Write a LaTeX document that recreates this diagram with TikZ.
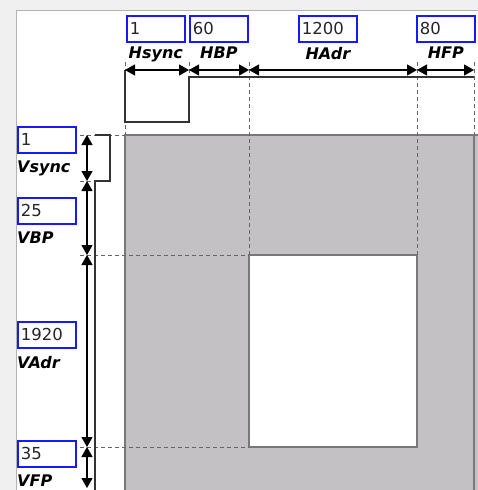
\documentclass[tikz,border=0pt]{standalone}
\usepackage{fontspec}
\setmainfont{DejaVu Sans}
\usepackage{xcolor}
\usepackage{tikz}
\usetikzlibrary{arrows.meta,positioning,calc}
\definecolor{panelbg}{RGB}{240,240,240}
\definecolor{porchgray}{RGB}{195,193,195}
\definecolor{edgegray}{RGB}{120,120,120}
\definecolor{valblue}{RGB}{25,25,245}

\tikzset{
  valbox/.style={draw=valblue,line width=1.7pt,fill=white,anchor=north west,
    minimum width=58pt,minimum height=26pt,inner sep=2pt,text width=52pt,
    align=left,text=black!85,font=\fontsize{16.5}{18}\selectfont},
  namelbl/.style={inner sep=0pt,font=\fontsize{16}{18}\selectfont\bfseries\itshape},
  dimarrow/.style={{Triangle[length=10pt,width=11pt]}-{Triangle[length=10pt,width=11pt]},line width=1.3pt},
  guide/.style={black!60,line width=1pt,dash pattern=on 4pt off 3pt},
  signal/.style={black!80,line width=1.5pt}
}

\begin{document}
\begin{tikzpicture}[x=1pt,y=-1pt]
  \useasboundingbox (0,0) rectangle (478,490);
  % window background
  \fill[panelbg] (0,0) rectangle (478,490);
  \filldraw[fill=white,draw=black!30,line width=1pt] (16,10) rectangle (479,491);

  % blanking area and active area
  \filldraw[fill=porchgray,draw=edgegray,line width=1.3pt] (125,135) rectangle (479,491);
  \draw[edgegray,line width=1.3pt] (474,135) -- (474,490);
  \filldraw[fill=white,draw=edgegray,line width=1.6pt] (249,255) rectangle (417,447);

  % tick positions
  \coordinate (h0) at (125,70);
  \coordinate (h1) at (189,70);
  \coordinate (h2) at (249,70);
  \coordinate (h3) at (417,70);
  \coordinate (h4) at (474,70);
  \coordinate (v0) at (87,135);
  \coordinate (v1) at (87,181);
  \coordinate (v2) at (87,255);
  \coordinate (v3) at (87,447);
  \coordinate (v4) at (87,488);

  % dashed guides
  \draw[guide] (125,62) -- (125,135);
  \draw[guide] (189,62) -- (189,77);
  \draw[guide] (249,62) -- (249,255);
  \draw[guide] (417,62) -- (417,255);
  \draw[guide] (474,62) -- (474,135);
  \draw[guide] (80,135) -- (125,135);
  \draw[guide] (80,181) -- (95,181);
  \draw[guide] (80,255) -- (249,255);
  \draw[guide] (80,447) -- (249,447);

  % sync signals
  \draw[signal] (125,70) -- (125,122) -- (189,122) -- (189,77) -- (474,77);
  \draw[signal] (95,135) -- (110,135) -- (110,181) -- (95,181) -- (95,490);

  % dimension arrows
  \foreach \a/\b in {h0/h1,h1/h2,h2/h3,h3/h4,v0/v1,v1/v2,v2/v3,v3/v4}
    \draw[dimarrow] (\a) -- (\b);

  % horizontal values
  \node[valbox] (hsyncval) at (126,15) {1};
  \node[valbox] (hbpval) at (189,15) {60};
  \node[valbox] (hadrval) at (298,15) {1200};
  \node[valbox] (hfpval) at (416,15) {80};
  \node[namelbl,below=4pt of hsyncval] (hsynclbl) {Hsync};
  \node[namelbl,below=4pt of hbpval] (hbplbl) {HBP};
  \node[namelbl,below=4pt of hadrval] (hadrlbl) {HAdr};
  \node[namelbl,below=4pt of hfpval] (hfplbl) {HFP};

  % vertical values
  \node[valbox] (vsyncval) at (17,126) {1};
  \node[valbox] (vbpval) at (17,197) {25};
  \node[valbox] (vadrval) at (17,321) {1920};
  \node[valbox] (vfpval) at (17,440) {35};
  \node[namelbl,below=7pt of vsyncval.south west,anchor=north west] (vsynclbl) {Vsync};
  \node[namelbl,below=7pt of vbpval.south west,anchor=north west] (vbplbl) {VBP};
  \node[namelbl,below=7pt of vadrval.south west,anchor=north west] (vadrlbl) {VAdr};
  \node[namelbl,below=7pt of vfpval.south west,anchor=north west] (vfplbl) {VFP};
\end{tikzpicture}
\end{document}
